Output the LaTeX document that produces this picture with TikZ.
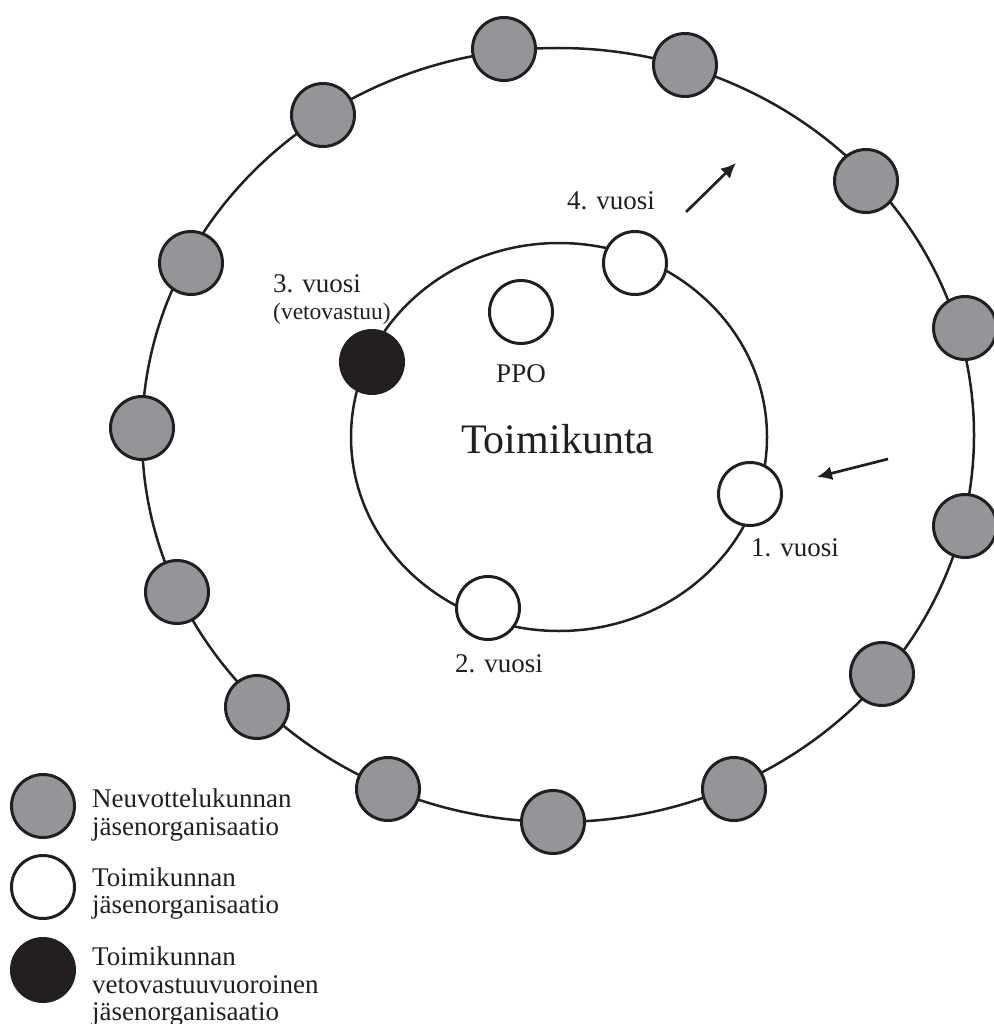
\documentclass[tikz,border=0pt]{standalone}
\usepackage{fontspec}
\setmainfont{Liberation Serif}
\usetikzlibrary{arrows.meta}
\definecolor{ink}{HTML}{231F20}
\definecolor{orggray}{HTML}{939598}
\tikzset{
  ring/.style={draw=ink, line width=2.5pt},
  org/.style={circle, draw=ink, line width=3pt, minimum size=63pt, inner sep=0pt},
  neuv/.style={org, fill=orggray},
  toim/.style={org, fill=white},
  veto/.style={org, fill=ink},
  lbl/.style={anchor=base west, inner sep=0pt, text=ink, font=\fontsize{27}{30}\selectfont},
  smalllbl/.style={lbl, font=\fontsize{23.5}{26}\selectfont},
  biglbl/.style={lbl, font=\fontsize{42}{46}\selectfont},
  arr/.style={draw=ink, line width=2.7pt, -{Latex[length=15pt,width=14pt]}},
}
\begin{document}
\begin{tikzpicture}[x=1pt,y=-1pt]
\useasboundingbox (0,0) rectangle (993,1024);
% rings
\draw[ring] (558,435) ellipse [x radius=416, y radius=387];
\draw[ring] (559,437) ellipse [x radius=208, y radius=194];
% outer ring organisations
\foreach \i/\x/\y in {1/504/49, 2/685/65, 3/866/181, 4/965/328, 5/965/526, 6/882/674, 7/734/789, 8/553/822, 9/388/789, 10/257/707, 11/177/592, 12/142/428, 13/191/263, 14/323/115}
  \node[neuv] (o\i) at (\x,\y) {};
% inner ring organisations
\node[veto] (v3) at (372,362) {};
\node[toim] (v4) at (635,263) {};
\node[toim] (ppo) at (521,312) {};
\node[toim] (v1) at (750,494) {};
\node[toim] (v2) at (488,608) {};
% labels
\node[lbl] (t3) at (273,292) {3. vuosi};
\node[smalllbl] (t3b) at (273,319) {(vetovastuu)};
\node[lbl] (t4) at (567,210) {4. vuosi};
\node[lbl, anchor=base] (tppo) at (521,382) {PPO};
\node[biglbl] (ttoim) at (461,453) {Toimikunta};
\node[lbl] (t1) at (751,556) {1. vuosi};
\node[lbl] (t2) at (455,672) {2. vuosi};
% arrows
\coordinate (a1s) at (686,212);
\coordinate (a1e) at (736,163);
\draw[arr] (a1s) -- (a1e);
\coordinate (a2s) at (888,459);
\coordinate (a2e) at (817,477);
\draw[arr] (a2s) -- (a2e);
% legend
\node[neuv] (lg1) at (43,806) {};
\node[toim] (lg2) at (43,887) {};
\node[veto] (lg3) at (43,970) {};
\node[lbl] (lt1a) at (92,807) {Neuvottelukunnan};
\node[lbl] (lt1b) at (92,835) {jäsenorganisaatio};
\node[lbl] (lt2a) at (92,886) {Toimikunnan};
\node[lbl] (lt2b) at (92,913) {jäsenorganisaatio};
\node[lbl] (lt3a) at (92,965) {Toimikunnan};
\node[lbl] (lt3b) at (92,993) {vetovastuuvuoroinen};
\node[lbl] (lt3c) at (92,1020) {jäsenorganisaatio};
\end{tikzpicture}
\end{document}
